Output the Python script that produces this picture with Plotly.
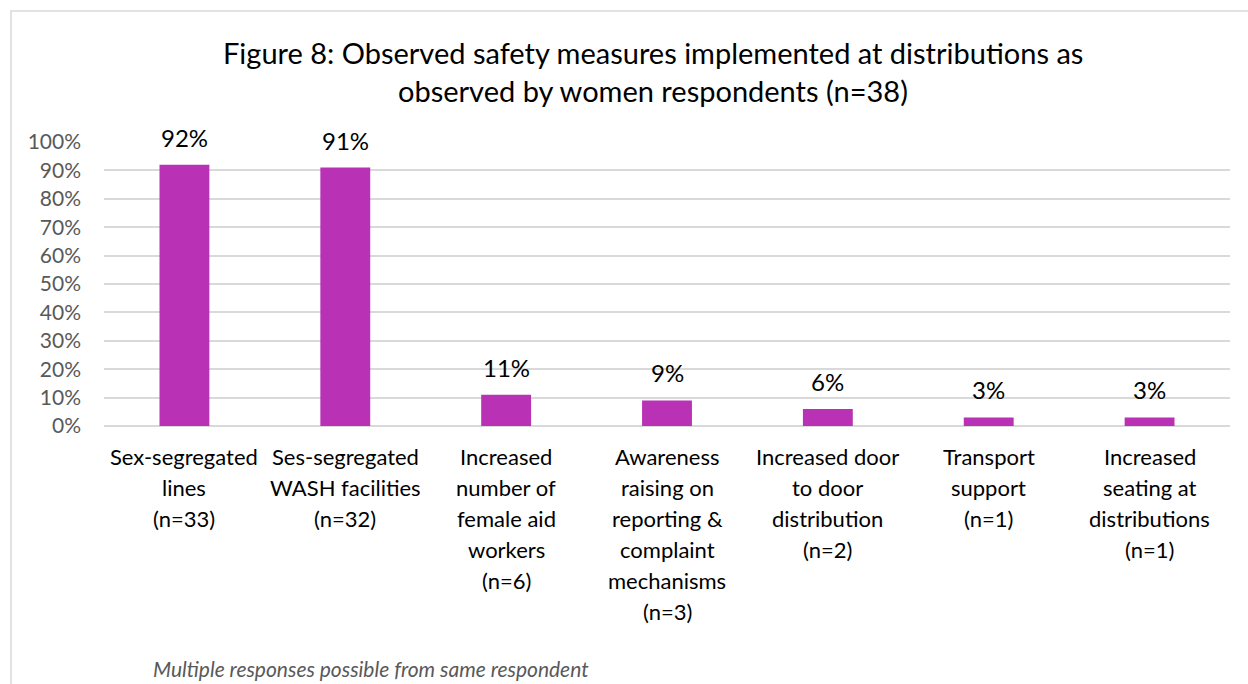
import plotly.graph_objects as go

# Safety measures observed at distributions (women respondents, n=38)
categories = [
    "Sex-segregated lines (n=33)",
    "Ses-segregated WASH facilities (n=32)",
    "Increased number of female aid workers (n=6)",
    "Awareness raising on reporting & complaint mechanisms (n=3)",
    "Increased door to door distribution (n=2)",
    "Transport support (n=1)",
    "Increased seating at distributions (n=1)",
]
category_lines = [
    ["Sex-segregated", "lines", "(n=33)"],
    ["Ses-segregated", "WASH facilities", "(n=32)"],
    ["Increased", "number of", "female aid", "workers", "(n=6)"],
    ["Awareness", "raising on", "reporting &", "complaint", "mechanisms", "(n=3)"],
    ["Increased door", "to door", "distribution", "(n=2)"],
    ["Transport", "support", "(n=1)"],
    ["Increased", "seating at", "distributions", "(n=1)"],
]
percentages = [92, 91, 11, 9, 6, 3, 3]
y_ticks = [0, 10, 20, 30, 40, 50, 60, 70, 80, 90, 100]
title_lines = [
    "Figure 8: Observed safety measures implemented at distributions as",
    "observed by women respondents (n=38)",
]
footnote = "Multiple responses possible from same respondent"

FONT = "Lato"
BAR_COLOR = "#B931B5"
GRID = "#D9D9D9"

W, H = 1248, 684
L, R, T, B = 104, 18, 142, 258
pw, ph = W - L - R, H - T - B


def px_x(x):
    return (x - L) / pw


def px_y(y):
    return (H - B - y) / ph


fig = go.Figure(
    go.Bar(
        x=categories,
        y=[p / 100 for p in percentages],
        marker=dict(color=BAR_COLOR, line=dict(width=0)),
        width=0.31,
        hoverinfo="skip",
    )
)

annotations = []
# value labels above each bar
for cat, p in zip(categories, percentages):
    annotations.append(dict(
        x=cat, y=p / 100, xref="x", yref="y", text=f"{p}%",
        showarrow=False, yanchor="bottom", yshift=11,
        font=dict(family=FONT, size=24, color="#000000"),
    ))
# multi-line category labels below the axis
for cat, lines in zip(categories, category_lines):
    for j, line in enumerate(lines):
        annotations.append(dict(
            x=cat, y=0, xref="x", yref="y", text=line,
            showarrow=False, yanchor="middle", yshift=-(30 + 31 * j),
            font=dict(family=FONT, size=22, color="#000000"),
        ))
# two-line title
for j, line in enumerate(title_lines):
    annotations.append(dict(
        x=px_x(653), y=px_y(52 + 38 * j), xref="paper", yref="paper",
        text=line, showarrow=False, xanchor="center", yanchor="middle",
        font=dict(family=FONT, size=29, color="#000000"),
    ))
# footnote
annotations.append(dict(
    x=px_x(151), y=px_y(668), xref="paper", yref="paper",
    text=f"<i>{footnote}</i>",
    showarrow=False, xanchor="left", yanchor="middle",
    font=dict(family=FONT, size=21, color="#595959"),
))

# chart-area frame
shapes = [dict(
    type="rect", xref="paper", yref="paper",
    x0=px_x(11), x1=px_x(W + 20),
    y0=px_y(H + 20), y1=px_y(11),
    line=dict(color=GRID, width=1.5), fillcolor="rgba(0,0,0,0)", layer="below",
)]

fig.update_layout(
    width=W, height=H,
    margin=dict(l=L, r=R, t=T, b=B),
    paper_bgcolor="white", plot_bgcolor="white",
    showlegend=False,
    annotations=annotations,
    shapes=shapes,
    bargap=0.69,
    xaxis=dict(showticklabels=False, showgrid=False, zeroline=False,
               showline=False, ticks="", fixedrange=True),
    yaxis=dict(
        range=[0, 1], tickvals=[v / 100 for v in y_ticks],
        ticktext=[f"{v}%" for v in y_ticks],
        showgrid=True, gridcolor=GRID, gridwidth=1.5,
        zeroline=True, zerolinecolor=GRID, zerolinewidth=1.5,
        showline=False, ticks="", ticklabelstandoff=22,
        tickfont=dict(family=FONT, size=21, color="#595959"),
        fixedrange=True,
    ),
)

fig.write_html("out.html", config={"displayModeBar": False})
